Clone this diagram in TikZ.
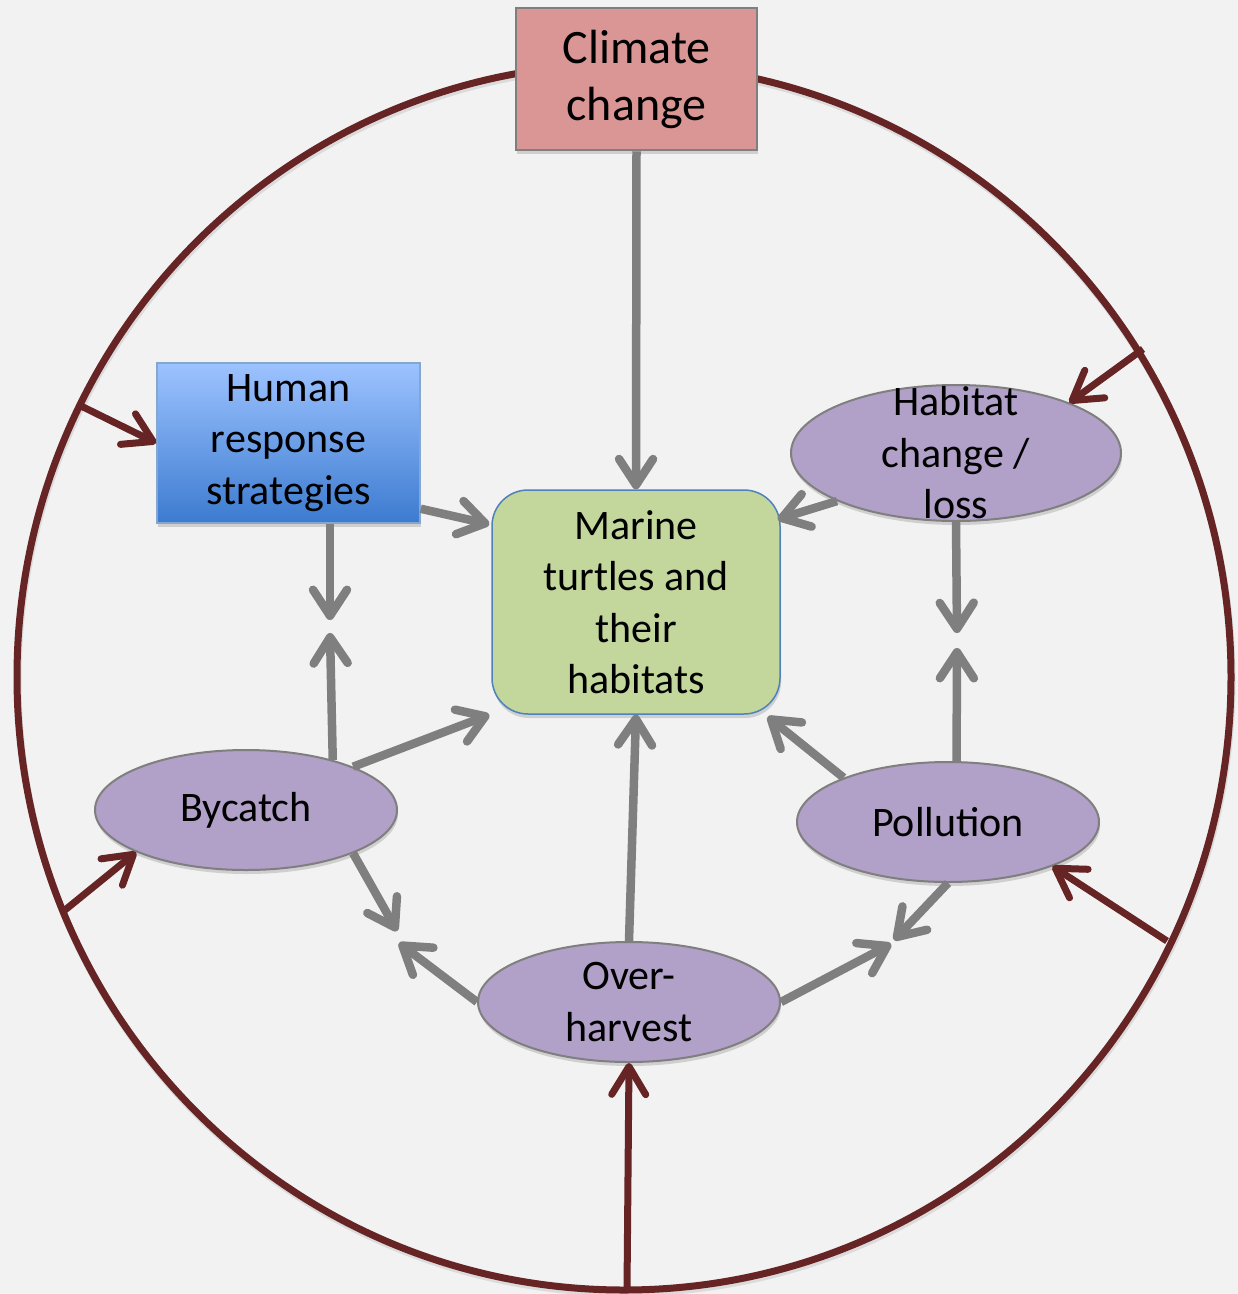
\documentclass[tikz,border=0pt]{standalone}
\usepackage{fontspec}
\setmainfont{Carlito}
\usetikzlibrary{arrows.meta,shapes.geometric,shadows,calc}

\definecolor{bg}{HTML}{F2F2F2}
\definecolor{ringred}{HTML}{662424}
\definecolor{arrowgray}{HTML}{7F7F7F}
\definecolor{climatefill}{HTML}{D99694}
\definecolor{marinefill}{HTML}{C3D69B}
\definecolor{marineedge}{HTML}{4F81BD}
\definecolor{threatfill}{HTML}{B1A0C7}
\definecolor{humantop}{HTML}{9DC3FF}
\definecolor{humanbottom}{HTML}{3C7BD0}

\begin{document}
\begin{tikzpicture}[x=1pt,y=-1pt,
  every node/.style={font=\fontsize{42}{51.5}\selectfont, align=center, inner sep=0pt},
  softshadow/.style={drop shadow={shadow xshift=1pt, shadow yshift=-4pt, fill=black!35, opacity=0.45}},
  climatebox/.style={rectangle, draw=arrowgray, line width=2.5pt, fill=climatefill,
    minimum width=241pt, minimum height=142pt, softshadow,
    font=\fontsize{48}{57}\selectfont},
  humanbox/.style={rectangle, draw=marineedge!70, line width=1.5pt,
    top color=humantop, bottom color=humanbottom,
    minimum width=263pt, minimum height=160pt, softshadow},
  marinebox/.style={rectangle, rounded corners=36pt, draw=marineedge, line width=1.5pt,
    fill=marinefill, minimum width=288pt, minimum height=224pt, softshadow},
  threat/.style={ellipse, draw=arrowgray, line width=2pt, fill=threatfill,
    minimum width=302pt, minimum height=120pt, softshadow},
  grayarrow/.style={draw=arrowgray, line width=8.5pt,
    -{Straight Barb[length=26pt,width=34pt,round]}},
  redarrow/.style={draw=ringred, line width=7pt,
    -{Straight Barb[length=28pt,width=34pt,round]}},
]
% canvas
\fill[bg] (0,0) rectangle (1238,1294);
\useasboundingbox (0,0) rectangle (1238,1294);

% outer ring with its faint shadow
\draw[black!14, line width=7pt] (625,680) ellipse [x radius=607, y radius=613];
\draw[ringred, line width=7pt] (624,677) ellipse [x radius=607, y radius=613];

% points on the ring where the outer arrows start
\coordinate (r1) at (79,405);
\coordinate (r2) at (1143,349);
\coordinate (r3) at (65,910);
\coordinate (r4) at (1167,941);
\coordinate (r5) at (627,1290);

% nodes
\node[climatebox] (climate) at (636.5,79) {Climate\\change};
\node[humanbox] (human) at (288.5,443) {Human\\response\\strategies};
\node[marinebox] (marine) at (636,602) {Marine\\turtles and\\their\\habitats};
\node[threat, minimum width=330pt, minimum height=136pt,
  label={center:Habitat\\change /\\loss}] (habitat) at (956,453) {};
\node[threat, label={center:Bycatch}] (bycatch) at (246,810) {};
\node[threat, label={center:Pollution}] (pollution) at (948,822) {};
\node[threat, label={center:Over-\\harvest}] (harvest) at (629,1002) {};

% meeting points of opposing arrows
\coordinate (hbTop) at (330,620);
\coordinate (hbBot) at (330,633);
\coordinate (bhTop) at (397,931);
\coordinate (bhBot) at (399,943);
\coordinate (phL) at (891,944);
\coordinate (phR) at (894,940);
\coordinate (hpTop) at (957,633);
\coordinate (hpBot) at (957,648);

% gray influence arrows
\draw[grayarrow] (climate.south) -- (marine.north);
\draw[grayarrow] ($(human.south east)+(0,-15)$) -- ($(marine.north west)+(-2,35)$);
\draw[grayarrow] (hbTop |- human.south) -- (hbTop);
\draw[grayarrow] (bycatch.30.8) -- (hbBot);
\draw[grayarrow] (bycatch.22.1) -- ($(marine.south west)+(-2,0)$);
\draw[grayarrow] (bycatch.-22.5) -- (bhTop);
\draw[grayarrow] (harvest.180) -- (bhBot);
\draw[grayarrow] (harvest.north) -- (marine.south);
\draw[grayarrow] (harvest.0) -- (phL);
\draw[grayarrow] (pollution.south) -- (phR);
\draw[grayarrow] (pollution.157.8) -- ($(marine.south east)+(-13,2)$);
\draw[grayarrow] (pollution.82.4) -- (hpBot);
\draw[grayarrow] (habitat.south) -- (hpTop);
\draw[grayarrow] (habitat.202.6) -- ($(marine.north east)+(-3,30)$);

% dark red arrows from the ring
\draw[redarrow] (r1) -- (human.west);
\draw[redarrow] (r2) -- (habitat.24.4);
\draw[redarrow] (r3) -- (bycatch.201.5);
\draw[redarrow] (r4) -- (pollution.337.2);
\draw[redarrow] (r5) -- (harvest.south);
\end{tikzpicture}
\end{document}
